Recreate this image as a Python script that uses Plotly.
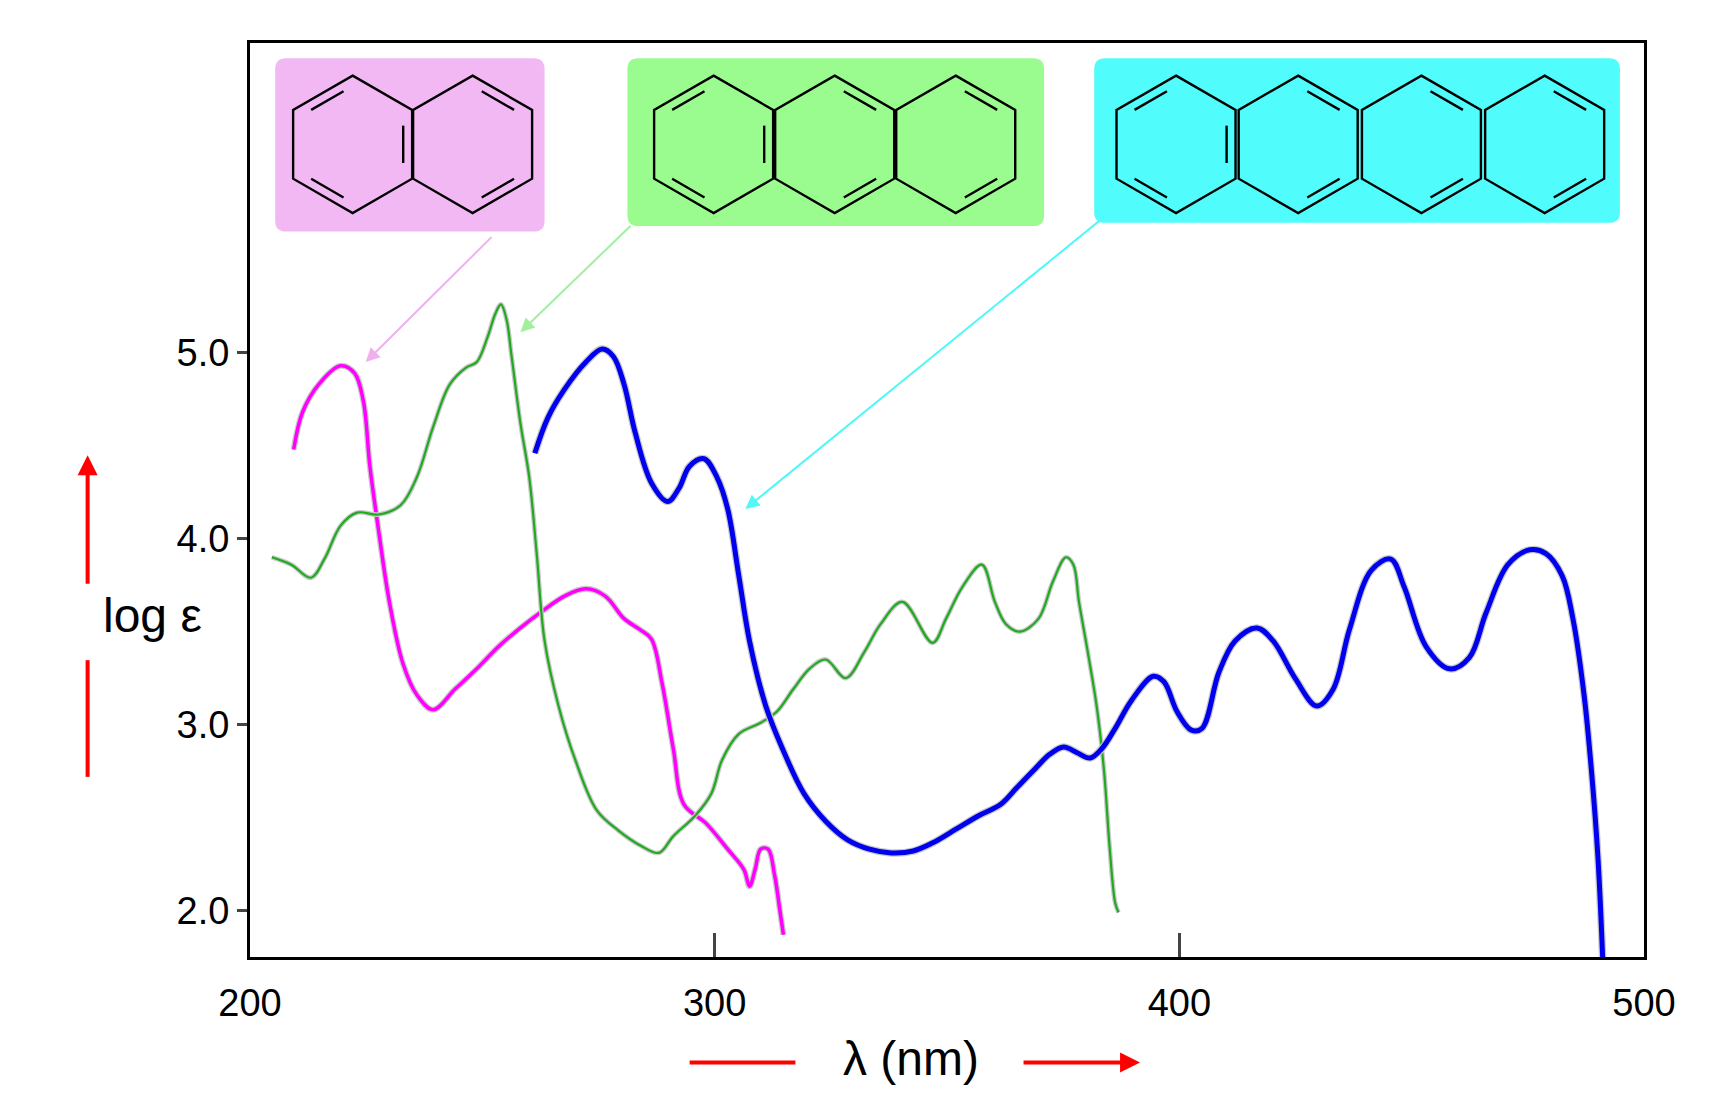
import math
import plotly.graph_objects as go

# naphthalene
naph_nm = [209.4, 211.3, 214.8, 219.5, 222.5, 224.4, 225.8, 227.7, 230.0, 232.9, 235.9, 239.4, 244.1,
           248.8, 253.5, 258.2, 262.9, 267.6, 272.3, 276.5, 280.5, 284.0, 286.4, 288.7, 291.1, 293.4,
           298.1, 302.8, 306.3, 307.5, 308.7, 309.9, 311.5, 312.9, 314.1, 314.8]
naph_log = [4.48, 4.68, 4.83, 4.93, 4.89, 4.74, 4.39, 4.04, 3.66, 3.33, 3.16, 3.08, 3.19,
            3.30, 3.42, 3.52, 3.61, 3.69, 3.73, 3.69, 3.57, 3.51, 3.46, 3.22, 2.87, 2.57,
            2.47, 2.33, 2.22, 2.13, 2.22, 2.33, 2.33, 2.19, 1.99, 1.87]

# anthracene
anth_nm = [204.7, 208.9, 213.1, 216.0, 219.5, 223.0, 227.7, 232.4, 235.9, 239.4, 243.0, 246.5, 248.8,
           251.2, 252.8, 254.0, 255.2, 256.3, 258.2, 260.1, 261.7, 263.4, 266.4, 270.0, 274.6, 279.3,
           284.0, 288.0, 291.1, 295.8, 299.3, 301.6, 305.2, 309.9, 313.4, 316.9, 320.4, 323.9, 328.2,
           332.2, 335.7, 340.4, 346.9, 349.8, 353.3, 357.5, 360.3, 362.7, 365.7, 369.7, 372.8, 375.6,
           377.2, 378.4, 380.3, 382.2, 383.8, 385.0, 386.2, 386.9]
anth_log = [3.90, 3.86, 3.79, 3.89, 4.07, 4.14, 4.13, 4.18, 4.33, 4.60, 4.83, 4.92, 4.95,
            5.09, 5.21, 5.26, 5.18, 4.98, 4.62, 4.33, 3.92, 3.45, 3.10, 2.81, 2.54, 2.43,
            2.35, 2.31, 2.40, 2.51, 2.63, 2.81, 2.95, 3.01, 3.07, 3.19, 3.30, 3.35, 3.25,
            3.39, 3.54, 3.66, 3.44, 3.57, 3.74, 3.86, 3.66, 3.54, 3.50, 3.57, 3.77, 3.90,
            3.86, 3.66, 3.39, 3.10, 2.75, 2.34, 2.04, 1.99]

# tetracene
tetr_nm = [261.3, 264.1, 267.6, 272.3, 275.8, 278.2, 280.5, 282.9, 286.4, 289.9, 292.3, 294.6, 297.7,
           300.5, 302.8, 305.2, 307.5, 311.0, 314.6, 319.2, 323.9, 328.6, 333.3, 338.0, 342.7, 347.4,
           352.1, 356.8, 361.5, 365.0, 368.5, 372.1, 375.1, 377.9, 380.8, 383.3, 386.2, 389.7, 394.4,
           396.7, 399.5, 402.6, 404.9, 408.5, 412.0, 416.7, 420.2, 424.9, 429.6, 433.1, 436.6, 441.3,
           445.5, 448.4, 453.1, 458.2, 462.4, 466.0, 470.7, 475.4, 478.9, 482.4, 484.7, 487.1, 488.7,
           490.1, 491.1]
tetr_log = [4.46, 4.65, 4.80, 4.95, 5.02, 4.98, 4.83, 4.57, 4.30, 4.20, 4.27, 4.39, 4.43,
            4.33, 4.16, 3.80, 3.45, 3.10, 2.87, 2.63, 2.48, 2.38, 2.33, 2.31, 2.32, 2.37,
            2.44, 2.51, 2.57, 2.66, 2.75, 2.84, 2.88, 2.85, 2.82, 2.87, 2.98, 3.13, 3.26,
            3.23, 3.07, 2.97, 2.98, 3.28, 3.45, 3.52, 3.45, 3.25, 3.10, 3.19, 3.51, 3.83,
            3.89, 3.74, 3.42, 3.30, 3.36, 3.60, 3.86, 3.94, 3.92, 3.80, 3.57, 3.16, 2.75,
            2.28, 1.75]

y_ticks = [2.0, 3.0, 4.0, 5.0]
x_ticks = [200, 300, 400, 500]

W, H = 1721, 1119
S = 1.0906
ML, MR = round(222 * S), W - round(1500 * S)
MT, MB = round(32 * S), H - round(870 * S)
PW, PH = W - ML - MR, H - MT - MB


def px(x):  # reference px -> paper x
    return (x * S - ML) / PW


def py(y):
    return 1 - (y * S - MT) / PH


fig = go.Figure()
for xs, ys, col, w in [(naph_nm, naph_log, "#ff00ff", 3.5),
                       (anth_nm, anth_log, "#1faa1f", 2.2),
                       (tetr_nm, tetr_log, "#0000ee", 5)]:
    fig.add_trace(go.Scatter(x=xs, y=ys, mode="lines", line=dict(color="#c8c8c8", width=w + 2.5, shape="spline"),
                             hoverinfo="skip", showlegend=False))
    fig.add_trace(go.Scatter(x=xs, y=ys, mode="lines", line=dict(color=col, width=w, shape="spline"),
                             showlegend=False))

shapes = []
# molecule boxes (rounded corners)
for (x0, y0, x1, y1, col) in [(245, 46, 492, 205, "#f2b8f4"),
                              (568, 46, 950, 200, "#9afb8f"),
                              (996, 46, 1478, 197, "#50fcfc")]:
    rr = 10
    path = (f"M {px(x0 + rr)},{py(y0)} L {px(x1 - rr)},{py(y0)} Q {px(x1)},{py(y0)} {px(x1)},{py(y0 + rr)} "
            f"L {px(x1)},{py(y1 - rr)} Q {px(x1)},{py(y1)} {px(x1 - rr)},{py(y1)} "
            f"L {px(x0 + rr)},{py(y1)} Q {px(x0)},{py(y1)} {px(x0)},{py(y1 - rr)} "
            f"L {px(x0)},{py(y0 + rr)} Q {px(x0)},{py(y0)} {px(x0 + rr)},{py(y0)} Z")
    shapes.append(dict(type="path", path=path, xref="paper", yref="paper",
                       fillcolor=col, line=dict(width=0), layer="below"))


def ring_lines(cx, cy, r, doubles):
    pts = [(cx + r * math.sin(math.radians(60 * k)), cy - r * math.cos(math.radians(60 * k))) for k in range(6)]
    path = "M " + " L ".join(f"{px(a)},{py(b)}" for a, b in pts) + " Z"
    shapes.append(dict(type="path", path=path, xref="paper", yref="paper", line=dict(color="black", width=2.4)))
    for e in doubles:
        (ax, ay), (bx, by) = pts[e], pts[(e + 1) % 6]
        f, sh = 0.15, 0.18
        ax2, ay2 = ax + (cx - ax) * f, ay + (cy - ay) * f
        bx2, by2 = bx + (cx - bx) * f, by + (cy - by) * f
        sx, sy = ax2 + (bx2 - ax2) * sh, ay2 + (by2 - ay2) * sh
        ex, ey = bx2 - (bx2 - ax2) * sh, by2 - (by2 - ay2) * sh
        shapes.append(dict(type="line", xref="paper", yref="paper", x0=px(sx), y0=py(sy), x1=px(ex), y1=py(ey),
                           line=dict(color="black", width=2.4)))


for centers in [[316, 426], [647, 758, 869], [1071, 1183, 1296, 1409]]:
    for i, c in enumerate(centers):
        ring_lines(c, 125, 63, [5, 3, 1] if i == 0 else [0, 2])

# red axis-title decorations
red = dict(color="red", width=4)
shapes.append(dict(type="line", xref="paper", yref="paper", x0=px(625), x1=px(722), y0=py(967), y1=py(967), line=red))
shapes.append(dict(type="line", xref="paper", yref="paper", x0=px(73), x1=px(73), y0=py(598), y1=py(705), line=red))

annotations = [
    dict(text="λ (nm)", xref="paper", yref="paper", x=px(828), y=py(989), showarrow=False,
         font=dict(size=48, color="black")),
    dict(text="log ε", xref="paper", yref="paper", x=px(85), y=py(557), showarrow=False,
         font=dict(size=48, color="black")),
    dict(text="", xref="paper", yref="paper", x=px(1038), y=py(967),
         ax=-118, ay=0, showarrow=True, arrowhead=2, arrowsize=1, arrowwidth=4, arrowcolor="red"),
    dict(text="", xref="paper", yref="paper", x=px(73), y=py(410),
         ax=0, ay=130, showarrow=True, arrowhead=2, arrowsize=1, arrowwidth=4, arrowcolor="red"),
]
# pointer arrows from molecules to curves
for hx, hy, tx, ty, col in [(224.9, 4.95, 252.3, 5.63, "#f0b0f0"),
                            (258.2, 5.11, 282.2, 5.69, "#a0f0a0"),
                            (306.6, 4.16, 383.3, 5.72, "#50f8f8")]:
    annotations.append(dict(text="", x=hx, y=hy, ax=tx, ay=ty, xref="x", yref="y", axref="x", ayref="y",
                            showarrow=True, arrowhead=2, arrowsize=1.4, arrowwidth=2, arrowcolor=col))

font = "Liberation Sans, Arial, sans-serif"
fig.update_layout(
    width=W, height=H, margin=dict(l=ML, r=MR, t=MT, b=MB),
    plot_bgcolor="white", paper_bgcolor="white",
    font=dict(family=font, size=38, color="black"),
    shapes=shapes, annotations=annotations,
    xaxis=dict(range=[200, 500], tickvals=x_ticks, ticktext=[str(v) for v in x_ticks], ticks="inside",
               ticklen=24, tickwidth=3, showgrid=False, zeroline=False, showline=True, linecolor="black",
               linewidth=3, mirror=True, ticklabelstandoff=10),
    yaxis=dict(range=[1.75, 6.666], tickvals=y_ticks, ticktext=[f"{v:.1f}" for v in y_ticks], ticks="outside",
               ticklen=10, tickwidth=3, showgrid=False, zeroline=False, showline=True, linecolor="black",
               linewidth=3, mirror=True),
)

fig.write_html("out.html")
